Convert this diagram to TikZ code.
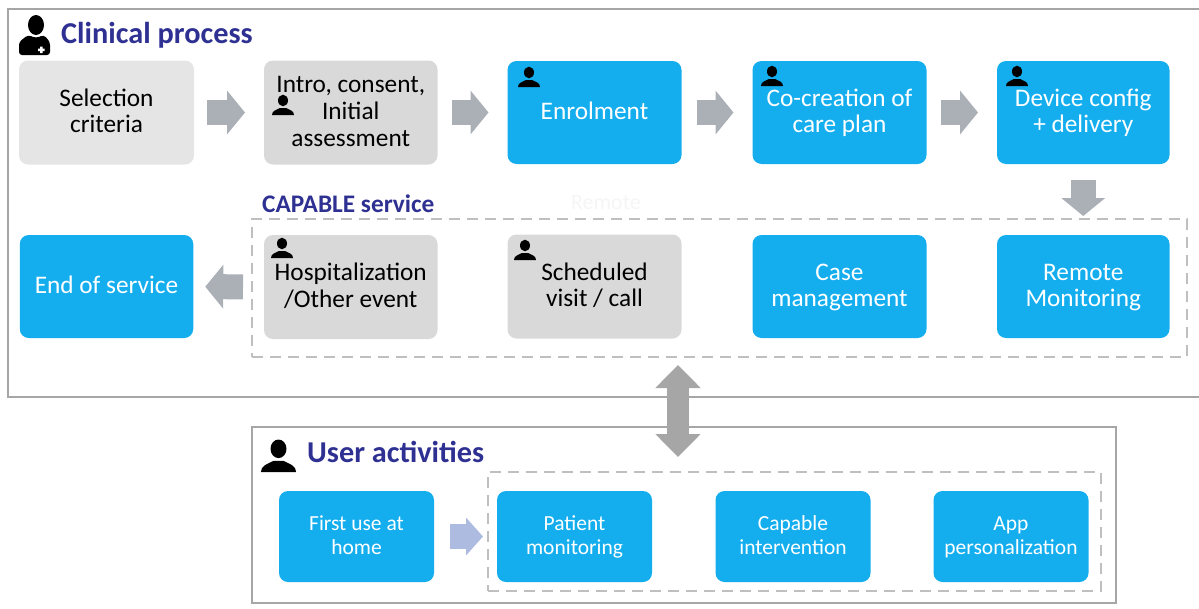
\documentclass[tikz,border=0pt]{standalone}
\usepackage{fontspec}
\setmainfont{Carlito}
\usepackage{xcolor}
\usetikzlibrary{arrows.meta, positioning}
\definecolor{skyblue}{HTML}{14AEEF}
\definecolor{titleblue}{HTML}{2E3192}
\definecolor{framegray}{HTML}{A6A6A6}
\definecolor{dashgray}{HTML}{BFBFBF}
\definecolor{arrowgray}{HTML}{ABAFB6}
\definecolor{arrowblue}{HTML}{AEBBE0}
\newcommand{\tu}{\rule{0pt}{0.93em}}
\newcommand{\td}{\rule[-0.38em]{0pt}{0.38em}}

\begin{document}
\begin{tikzpicture}[
    x=1pt, y=-1pt,
    bluebox/.style={rectangle, rounded corners=9pt, fill=skyblue, text=white, minimum width=174pt, minimum height=103pt, align=center, inner sep=0pt, outer sep=0pt, font=\fontsize{25.3}{26.7}\selectfont},
    graybox/.style={bluebox, fill=black!15, text=black, minimum width=173.5pt, minimum height=104pt},
    userbox/.style={bluebox, minimum width=155pt, minimum height=91pt, font=\fontsize{21.5}{24}\selectfont},
    frame/.style={draw=framegray, line width=2.5pt},
    dashframe/.style={draw=dashgray, line width=2.5pt, dash pattern=on 11pt off 7pt},
    title/.style={text=titleblue, font=\fontsize{30.3}{32}\selectfont\bfseries, anchor=base west, inner sep=0pt},
    flow/.style={draw=arrowgray, line width=25pt, -{Triangle[length=18pt, width=43pt]}},
    person/.pic={
        \fill[black] (0,-4.5) ellipse (5 and 5.8);
        \fill[black] (-11,10) .. controls (-11,6) and (-7,5) .. (-3,3) -- (3,3) .. controls (7,5) and (11,6) .. (11,10) -- cycle;
    },
    node distance=70pt
]
    \useasboundingbox (0,0) rectangle (1199,608);

    % Frames
    \draw[frame] (1199,9) -| (8,397) -- (1199,397);
    \node[frame, rectangle, inner sep=0pt, minimum width=864pt, minimum height=176pt] (userframe) at (684,515) {};
    \node[dashframe, rectangle, inner sep=0pt, minimum width=935pt, minimum height=138pt] (serviceframe) at (719.5,288) {};
    \node[dashframe, rectangle, inner sep=0pt, minimum width=613pt, minimum height=119pt] (activityframe) at (794.5,531.5) {};

    % Titles
    \node[title] (clinical) at (61,43) {Clinical process};
    \node[title] (activities) at (307,462) {User activities};
    \node[title, font=\fontsize{25.3}{26}\selectfont\bfseries] (service) at (262,212) {CAPABLE service};
    \node[text=black!4, font=\fontsize{22}{24}\selectfont, inner sep=0pt] (ghost) at (606,203) {Remote};

    % First row
    \node[graybox, fill=black!10, minimum width=175pt] (selection) at (106.5,112.5) {\tu Selection\\criteria\td};
    \node[graybox, right=of selection] (intro) {\tu Intro, consent,\\Initial\\assessment\td};
    \node[bluebox, right=of intro] (enrolment) {\tu Enrolment\td};
    \node[bluebox, right=71pt of enrolment] (careplan) {\tu Co-creation of\\care plan\td};
    \node[bluebox, right=70.5pt of careplan, minimum width=172.5pt] (device) {\tu Device config\\+ delivery\td};

    % Second row
    \node[bluebox, below=70.5pt of selection, minimum width=173.5pt] (endservice) {\tu End of service\td};
    \node[graybox, below=70.5pt of intro] (hospital) {\tu Hospitalization\\/Other event\td};
    \node[graybox, below=70.5pt of enrolment, minimum width=174pt] (visit) {\tu Scheduled\\visit / call\td};
    \node[bluebox, below=71pt of careplan] (casemgmt) {\tu Case\\management\td};
    \node[bluebox, below=71pt of device, minimum width=172.5pt] (remote) {\tu Remote\\Monitoring\td};

    % User activities
    \node[userbox] (firstuse) at (356.5,536.5) {\tu First use at\\home\td};
    \node[userbox] (patient) at (574.5,536.5) {\tu Patient\\monitoring\td};
    \node[userbox] (intervention) at (793,536.5) {\tu Capable\\intervention\td};
    \node[userbox] (personal) at (1011,536.5) {\tu App\\personalization\td};

    % Flow arrows
    \draw[flow, shorten <=13pt, shorten >=19pt] (selection) -- (intro);
    \draw[flow, shorten <=14pt, shorten >=19pt] (intro) -- (enrolment);
    \draw[flow, shorten <=15pt, shorten >=19pt] (enrolment) -- (careplan);
    \draw[flow, shorten <=14pt, shorten >=19pt] (careplan) -- (device);
    \draw[flow, shorten <=16pt, shorten >=19pt] (device) -- (remote);
    \draw[flow, shorten <=21pt, shorten >=12pt] (hospital) -- (endservice);
    \draw[flow, draw=arrowblue, shorten <=16pt, shorten >=14pt, -{Triangle[length=17pt, width=37pt]}] (firstuse) -- (patient);

    % Two way arrow
    \coordinate (updown top) at (678,365);
    \coordinate (updown bottom) at (678,457);
    \draw[flow, line width=22pt, draw=framegray, {Triangle[length=23pt, width=44pt]}-{Triangle[length=23pt, width=44pt]}] (updown top) -- (updown bottom);

    % People
    \fill[black] (36,25) ellipse (8 and 10);
    \fill[black, rounded corners=3pt] (19,55) -- (19,42) -- (28,35) -- (36,38) -- (44,35) -- (50,42) -- (50,55) -- cycle;
    \fill[white] (40,46.5) rectangle (42.5,53) (38,48.5) rectangle (44.5,51);
    \pic[scale=1.6] at (278.5,456) {person};
    \pic at (283,105) {person};
    \pic at (529,77) {person};
    \pic at (772,76) {person};
    \pic at (1017,76) {person};
    \pic at (282,248) {person};
    \pic at (525,250) {person};
\end{tikzpicture}
\end{document}
